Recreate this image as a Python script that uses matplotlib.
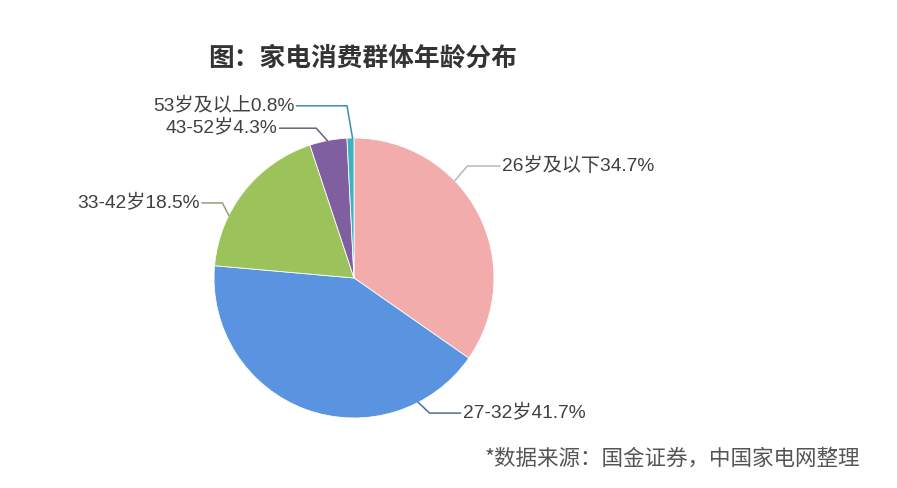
import numpy as np
import matplotlib
matplotlib.use("Agg")
import matplotlib.pyplot as plt

plt.rcParams['font.family'] = ['Noto Sans CJK SC', 'DejaVu Sans']

# data
groups = ["26岁及以下", "27-32岁", "33-42岁", "43-52岁", "53岁及以上"]
shares = [34.7, 41.7, 18.5, 4.3, 0.8]
colors = ["#F2ACAC", "#5A93DF", "#9CC35B", "#7F5FA0", "#3FAFC2"]
line_colors = ["#B8B8B8", "#4F6F8F", "#8FA37A", "#6F6070", "#3B8FAE"]

title = "图：家电消费群体年龄分布"
source = "*数据来源：国金证券，中国家电网整理"

# layout (pie units, radius = 1): leader start angle, elbow point, line end x
leader_angle = [44, -62.7, 153.4, 101, 90.6]
elbow = [(0.81, 0.80), (0.54, -0.965), (-0.94, 0.536), (-0.27, 1.07), (-0.05, 1.23)]
line_end = [1.04, 0.76, -1.085, -0.53, -0.41]

label_font = ['Liberation Sans', 'Noto Sans CJK SC']

W, H = 897, 488
fig = plt.figure(figsize=(W / 100, H / 100), dpi=100)
cx, cy, r = 354, 278, 140
ax = fig.add_axes([(cx - r) / W, (H - cy - r) / H, 2 * r / W, 2 * r / H])

wedges, _ = ax.pie(shares, colors=colors, startangle=90, counterclock=False,
                   radius=1, wedgeprops=dict(edgecolor="white", linewidth=0.6))
ax.set_xlim(-1, 1)
ax.set_ylim(-1, 1)
ax.axis("off")

for i, (g, v) in enumerate(zip(groups, shares)):
    a = np.deg2rad(leader_angle[i])
    x0, y0 = np.cos(a), np.sin(a)
    ex, ey = elbow[i]
    lx = line_end[i]
    ax.plot([x0, ex, lx], [y0, ey, ey], color=line_colors[i], lw=1.1,
            clip_on=False, solid_joinstyle="miter")
    if lx > ex:
        ax.text(lx + 0.015, ey, f"{g}{v}%", ha="left", va="center", family=label_font,
                fontsize=13.8, color="#404040", clip_on=False)
    else:
        ax.text(lx - 0.015, ey, f"{g}{v}%", ha="right", va="center", family=label_font,
                fontsize=13.8, color="#404040", clip_on=False)

fig.text(363 / W, 1 - 58 / H, title, ha="center", va="center",
         fontsize=18.5, fontweight="bold", color="#333333")
fig.text(860 / W, 1 - 459 / H, source, ha="right", va="center",
         fontsize=15.5, color="#555555")

fig.savefig("out.png", dpi=100)
